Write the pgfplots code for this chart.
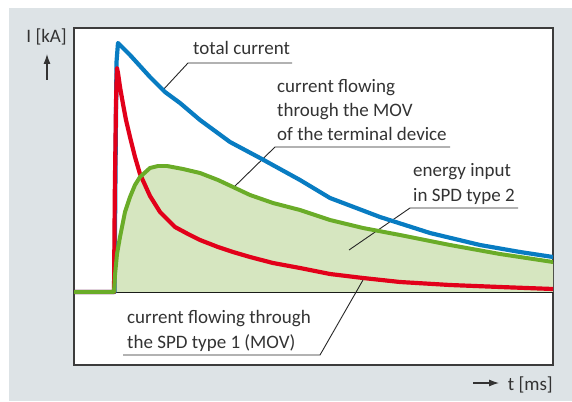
\documentclass[border=0pt]{standalone}
\usepackage{pgfplots}
\pgfplotsset{compat=1.18}
\usepackage{fontspec}
\setmainfont{Carlito}
\usetikzlibrary{arrows.meta}
\definecolor{bg}{HTML}{DDE3E6}
\definecolor{cblue}{HTML}{087CC2}
\definecolor{cred}{HTML}{E2001A}
\definecolor{cgreen}{HTML}{6AAC28}
\definecolor{cfill}{HTML}{D6E6C0}
\definecolor{txt}{HTML}{333333}
\definecolor{frame}{HTML}{3C3C3C}
\tikzset{lbl/.style={text=txt, font=\fontsize{19bp}{24bp}\selectfont, inner sep=0pt, anchor=base west}}
\begin{document}
\begin{tikzpicture}[x=1bp,y=1bp]
\path[use as bounding box] (0,0) rectangle (572,401);
\fill[bg] (9,0) rectangle (572,393);
\begin{axis}[
  scale only axis, width=479bp, height=337bp,
  at={(74bp,36bp)}, anchor=south west,
  xmin=-39, xmax=440, ymin=-73, ymax=264,
  xtick=\empty, ytick=\empty,
  axis line style={frame, line width=1.2pt},
  axis background/.style={fill=white},
  clip mode=individual,
]
% zero line
\draw[black, line width=1.1pt] (axis cs:-39,0) -- (axis cs:440,0);
% fill under green curve
\addplot[fill=cfill, draw=none] coordinates {
(0,0) (1,0) (2,17) (4,38) (7,55) (12,80) (17,95) (22,107) (27,115) (37,124) (45,126) (54,126) (70,123) (87,119) (105,112) (120,105) (137,97) (160,89) (187,82) (217,72) (250,64) (287,57) (337,47) (387,38) (440,30) (440,0)
} -- cycle;
% leaders
\draw[black!85, line width=0.9pt] (axis cs:179,229) -- (axis cs:75,229) -- (axis cs:50,202);
\draw[black!85, line width=0.9pt] (axis cs:337,145) -- (axis cs:162,145) -- (axis cs:120,104);
\draw[black!85, line width=0.9pt] (axis cs:405,84) -- (axis cs:297,84) -- (axis cs:236,42);
\draw[black!85, line width=0.9pt] (axis cs:10,-63) -- (axis cs:207,-63) -- (axis cs:250,12);
% curves
\addplot[cblue, line width=4.2pt, line join=round] coordinates {
(-39,0) (0,0) (1.5,0) (2.5,120) (3.5,230) (5,249) (10,244) (17,237) (27,226) (37,215) (52,200) (67,189) (87,172) (117,150) (147,134) (187,112) (217,94) (267,75) (317,59) (367,47) (407,40) (440,35)
};
\addplot[cred, line width=4.2pt, line join=round] coordinates {
(-39,0) (0,0) (1,0) (1.8,100) (3,190) (4,224) (5,219) (7,205) (10,188) (13,172) (17,155) (22,135) (27,118) (37,96) (47,80) (62,65) (75,58) (87,52) (105,45) (120,40) (137,35) (160,29) (187,24) (217,18) (250,14) (287,10) (337,7) (387,5) (440,3)
};
\addplot[cgreen, line width=4pt, line join=round] coordinates {
(-39,0) (0,0) (1,0) (2,17) (4,38) (7,55) (12,80) (17,95) (22,107) (27,115) (37,124) (45,126) (54,126) (70,123) (87,119) (105,112) (120,105) (137,97) (160,89) (187,82) (217,72) (250,64) (287,57) (337,47) (387,38) (440,30)
};
% texts
\node[lbl] at (axis cs:80,237) {total current};
\node[lbl] at (axis cs:164,199) {current flowing};
\node[lbl] at (axis cs:164,175) {through the MOV};
\node[lbl] at (axis cs:164,151) {of the terminal device};
\node[lbl] at (axis cs:300,116) {energy input};
\node[lbl] at (axis cs:300,91) {in SPD type 2};
\node[lbl] at (axis cs:14,-31) {current flowing through};
\node[lbl] at (axis cs:14,-56) {the SPD type 1 (MOV)};
\node[lbl, anchor=base east] at (axis cs:-46,249) {I [kA]};
\draw[txt, line width=1.1pt, -{Latex[length=10bp,width=7bp]}] (axis cs:-66,212) -- (axis cs:-66,238);
\draw[txt, line width=1.1pt, -{Latex[length=10bp,width=7bp]}] (axis cs:360,-91) -- (axis cs:386,-91);
\node[lbl, anchor=base east] at (axis cs:440,-98) {t [ms]};
\end{axis}
\end{tikzpicture}
\end{document}
